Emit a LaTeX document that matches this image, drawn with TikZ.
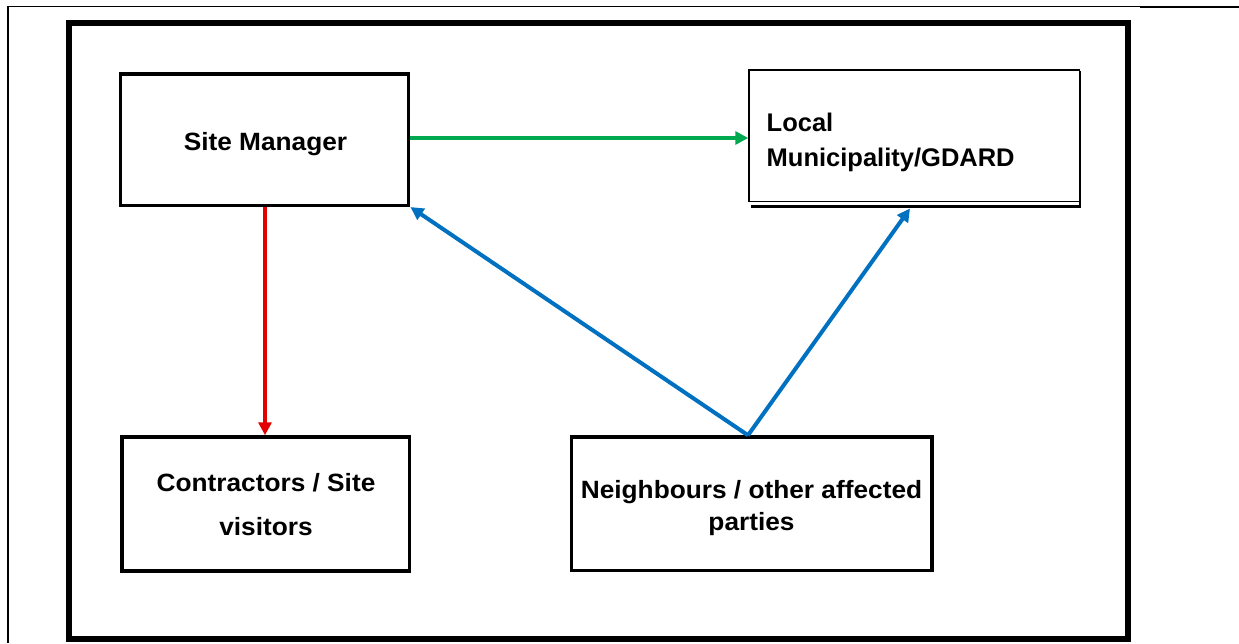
\documentclass[tikz,border=0pt]{standalone}
\usepackage{fontspec}
\setmainfont{Liberation Sans}
\newfontfamily\boxfont[FakeStretch=1.05]{Liberation Sans}
\usetikzlibrary{arrows.meta}
\definecolor{arrgreen}{RGB}{0,168,80}
\definecolor{arrred}{RGB}{226,0,0}
\definecolor{arrblue}{RGB}{0,112,192}
\tikzset{
  box/.style={draw=black, fill=white, line width=3.5pt, inner sep=0pt},
  thinbox/.style={draw=black, fill=white, line width=1.5pt, inner sep=0pt},
  lbl/.style={inner sep=0pt, anchor=base, font=\boxfont\bfseries\fontsize{25}{30}\selectfont},
  llbl/.style={inner sep=0pt, anchor=base west, font=\bfseries\fontsize{25.5}{30}\selectfont},
  tip/.style={-{Triangle[length=13pt,width=13pt]}},
  garrow/.style={tip, draw=arrgreen, fill=arrgreen, line width=3.5pt},
  rarrow/.style={tip, draw=arrred, fill=arrred, line width=3.5pt},
  barrow/.style={tip, draw=arrblue, fill=arrblue, line width=4pt},
}
\begin{document}
\begin{tikzpicture}[x=1pt,y=-1pt]
\useasboundingbox (0,0) rectangle (1239,643);
% page edge lines
\draw[line width=1.5pt] (8,643) -- (8,6.5) -- (1140,6.5);
\draw[line width=2.3pt] (1140,7) -- (1239,7);
% outer frame
\draw[line width=6pt] (68.5,22.5) rectangle (1127.5,639);
% boxes
\node[box, minimum width=288.2pt, minimum height=131.3pt] (sm) at (264.6,139.65) {};
\node[box, minimum width=287.7pt, minimum height=134pt] (ct) at (265.85,504) {};
\node[box, minimum width=360.7pt, minimum height=133.5pt] (nb) at (751.65,503.75) {};
\draw[line width=2.5pt] (751,206.5) -- (1080.7,206.5);
\node[thinbox, minimum width=330.5pt, minimum height=131.3pt] (lm) at (914.25,135.65) {};
\draw[line width=2.2pt] (1080,71) -- (1080,207);
\coordinate (lmshadow) at (910,208.5);
% texts
\node[lbl] (smt) at (265.5,150.7) {Site Manager};
\node[lbl] (ct1) at (266,491.7) {Contractors / Site};
\node[lbl] (ct2) at (266,535) {visitors};
\node[lbl] (nb1) at (751.5,498) {Neighbours / other affected};
\node[lbl] (nb2) at (751.5,530) {parties};
\node[llbl] (lm1) at (766.5,131.7) {Local};
\node[llbl] (lm2) at (766.5,166.7) {Municipality/GDARD};
% connectors
\draw[garrow] (sm.east |- 0,138) -- (lm.west |- 0,138);
\draw[rarrow] (sm.south -| 265,0) -- (ct.north -| 265,0);
\draw[barrow] (nb.north -| 748,0) -- (sm.south east);
\draw[barrow] (nb.north -| 748,0) -- (lmshadow);
\end{tikzpicture}
\end{document}
